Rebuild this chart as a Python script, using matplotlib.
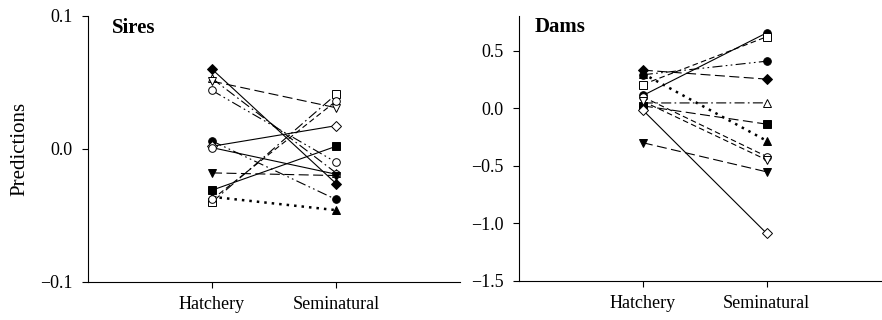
import matplotlib
matplotlib.use('Agg')
import matplotlib.pyplot as plt

plt.rcParams['font.family'] = 'Liberation Serif'

groups = ['Hatchery', 'Seminatural']

# Sires: hatchery value, seminatural value
sires_hatch = [0.060, 0.053, 0.051, 0.044, 0.006, 0.002, 0.001, -0.018, -0.031, -0.040, -0.036, -0.038]
sires_semi = [-0.026, -0.018, 0.031, -0.010, -0.038, 0.0175, -0.019, -0.020, 0.002, 0.041, -0.046, 0.036]

# Dams
dams_hatch = [0.11, 0.205, 0.29, 0.33, 0.30, 0.045, 0.02, 0.098, 0.06, -0.30, -0.017]
dams_semi = [0.654, 0.62, 0.408, 0.252, -0.284, 0.046, -0.139, -0.42, -0.45, -0.553, -1.088]

solid = '-'
longdash = (0, (9, 4))
dash = (0, (5, 3))
dashdot = (0, (9, 3, 1.5, 3))
dashdotdot = (0, (9, 3, 1.5, 3, 1.5, 3))
dotted = (0, (1, 2))

sires_style = [('D', 'k', solid), ('^', 'w', dashdot), ('v', 'w', longdash), ('o', 'w', dashdotdot),
               ('o', 'k', dashdotdot), ('D', 'w', solid), ('o', 'w', solid), ('v', 'k', longdash),
               ('s', 'k', solid), ('s', 'w', dashdot), ('^', 'k', dotted), ('o', 'w', dash)]
dams_style = [('o', 'k', solid), ('s', 'w', dash), ('o', 'k', dashdotdot), ('D', 'k', longdash),
              ('^', 'k', dotted), ('^', 'w', dashdot), ('s', 'k', longdash), ('o', 'w', dash),
              ('v', 'w', dash), ('v', 'k', longdash), ('D', 'w', solid)]

fig = plt.figure(figsize=(8.82, 3.2), dpi=100)
ax1 = fig.add_axes([0.0998, 0.119, 0.4218, 0.831])
ax2 = fig.add_axes([0.5884, 0.122, 0.4116, 0.828])

x = [1, 2]

def draw(ax, hatch, semi, styles):
    for h, s, (m, fc, ls) in zip(hatch, semi, styles):
        lw = 0.8
        if ls == dotted:
            lw = 1.8
        ax.plot(x, [h, s], color='k', linestyle=ls, linewidth=lw, marker=m,
                markerfacecolor=fc, markeredgecolor='k', markeredgewidth=0.7,
                markersize=5.5)

draw(ax1, sires_hatch, sires_semi, sires_style)
draw(ax2, dams_hatch, dams_semi, dams_style)

for ax in [ax1, ax2]:
    ax.spines['top'].set_visible(False)
    ax.spines['right'].set_visible(False)
    ax.set_xticks(x)
    ax.set_xticklabels(groups)
    ax.tick_params(direction='out', length=4, width=0.8, labelsize=13)
    ax.tick_params(axis='y', pad=7)
    ax.tick_params(axis='x', pad=6)

ax1.set_xlim(0, 3)
ax1.set_ylim(-0.1, 0.1)
ax1.set_yticks([-0.1, 0.0, 0.1])
ax1.set_yticklabels(['\u22120.1', '0.0', '0.1'])
ax1.set_ylabel('Predictions', fontsize=15, labelpad=8)
ax1.text(0.063, 0.955, 'Sires', transform=ax1.transAxes, fontsize=15,
         fontweight='bold', va='center')

ax2.set_xlim(0, 2.93)
ax2.set_ylim(-1.5, 0.8)
ax2.set_yticks([-1.5, -1.0, -0.5, 0.0, 0.5])
ax2.set_yticklabels(['\u22121.5', '\u22121.0', '\u22120.5', '0.0', '0.5'])
ax2.text(0.044, 0.958, 'Dams', transform=ax2.transAxes, fontsize=15,
         fontweight='bold', va='center')

plt.savefig('out.png', dpi=100)
